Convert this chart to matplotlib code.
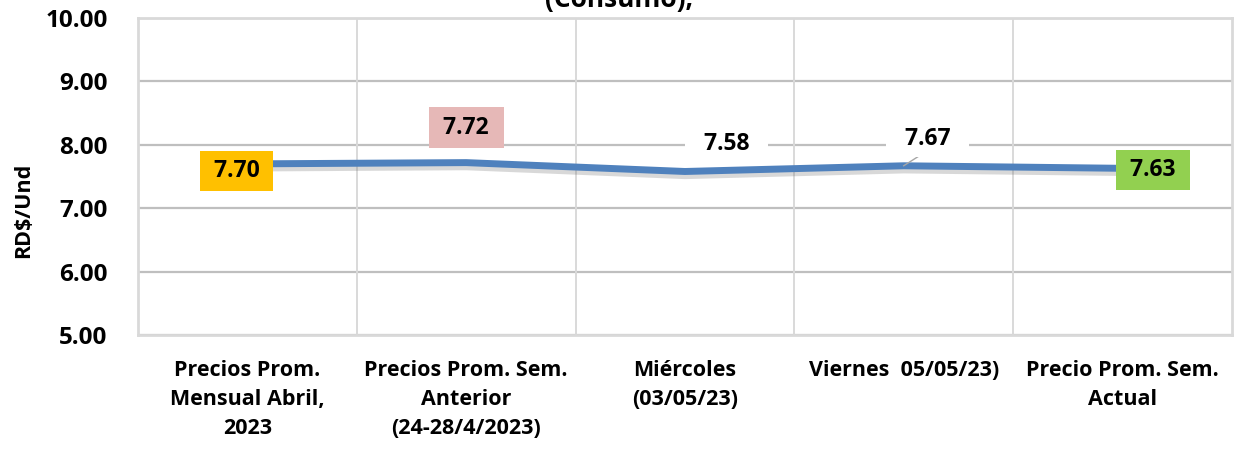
import matplotlib.pyplot as plt
import matplotlib.patheffects as pe

# data
categorias = ['Precios Prom.\nMensual Abril,\n2023',
              'Precios Prom. Sem.\nAnterior\n(24-28/4/2023)',
              'Miércoles\n(03/05/23)',
              'Viernes  05/05/23)',
              'Precio Prom. Sem.\nActual']
precios = [7.70, 7.72, 7.58, 7.67, 7.63]
etiquetas = ['7.70', '7.72', '7.58', '7.67', '7.63']
y_ticks = [5, 6, 7, 8, 9, 10]

plt.rcParams['font.family'] = ['Open Sans', 'DejaVu Sans']
plt.rcParams['font.weight'] = 'bold'

fig = plt.figure(figsize=(12.38, 4.53), dpi=100)
ax = fig.add_axes([0.1115, 0.2605, 0.8835, 0.6995])

x = list(range(len(categorias)))
ax.plot(x, precios, color='#4F81BD', linewidth=5, solid_capstyle='butt', zorder=3,
        path_effects=[pe.SimpleLineShadow(offset=(0, -3), shadow_color='#666666', alpha=0.25),
                      pe.Normal()])

ax.set_xlim(-0.5, len(categorias) - 0.5)
ax.set_ylim(5, 10)
ax.set_yticks(y_ticks)
ax.set_yticklabels([f'{v:.2f}' for v in y_ticks], fontsize=17.5, fontweight='bold')
ax.set_xticks(x)
ax.set_xticklabels(categorias, fontsize=15.5, fontweight='bold', linespacing=1.5)
ax.tick_params(length=0)
ax.tick_params(axis='y', pad=22)
ax.tick_params(axis='x', pad=18)

# grid
for v in y_ticks:
    ax.axhline(v, color='#BFBFBF', linewidth=1.6, zorder=1)
for b in [0.5, 1.5, 2.5, 3.5]:
    ax.axvline(b, color='#D9D9D9', linewidth=1.4, zorder=1)
for s in ax.spines.values():
    s.set_color('#D9D9D9')
    s.set_linewidth(2)

fig.text(0.019, 0.535, 'RD$/Und', rotation=90, ha='center', va='center',
         fontsize=15.5, fontweight='bold')

# data labels
lbl = dict(fontsize=16.5, fontweight='bold', ha='center', va='center', zorder=5)
ax.text(-0.05, 7.59, ' ' + etiquetas[0] + ' ', bbox=dict(boxstyle='square,pad=0.35', fc='#FFC000', ec='none'), **lbl)
ax.text(1.0, 8.27, ' ' + etiquetas[1] + ' ', bbox=dict(boxstyle='square,pad=0.38', fc='#E6B8B7', ec='none'), **lbl)
ax.text(2.19, 8.02, '  ' + etiquetas[2] + '  ', bbox=dict(boxstyle='square,pad=0.3', fc='white', ec='none'), **lbl)
ax.text(3.11, 8.10, '  ' + etiquetas[3] + '  ', bbox=dict(boxstyle='square,pad=0.3', fc='white', ec='none'), **lbl)
ax.plot([3.0, 3.1], [7.67, 7.89], color='#A6A6A6', linewidth=1, zorder=4)
ax.text(4.14, 7.61, ' ' + etiquetas[4] + ' ', bbox=dict(boxstyle='square,pad=0.35', fc='#92D050', ec='none'), **lbl)

# title, cut at the top edge as in the original
fig.text(0.5, 0.984, '(Consumo),', ha='center', va='baseline',
         fontsize=19, fontweight='bold')

fig.savefig('out.png', dpi=100)
